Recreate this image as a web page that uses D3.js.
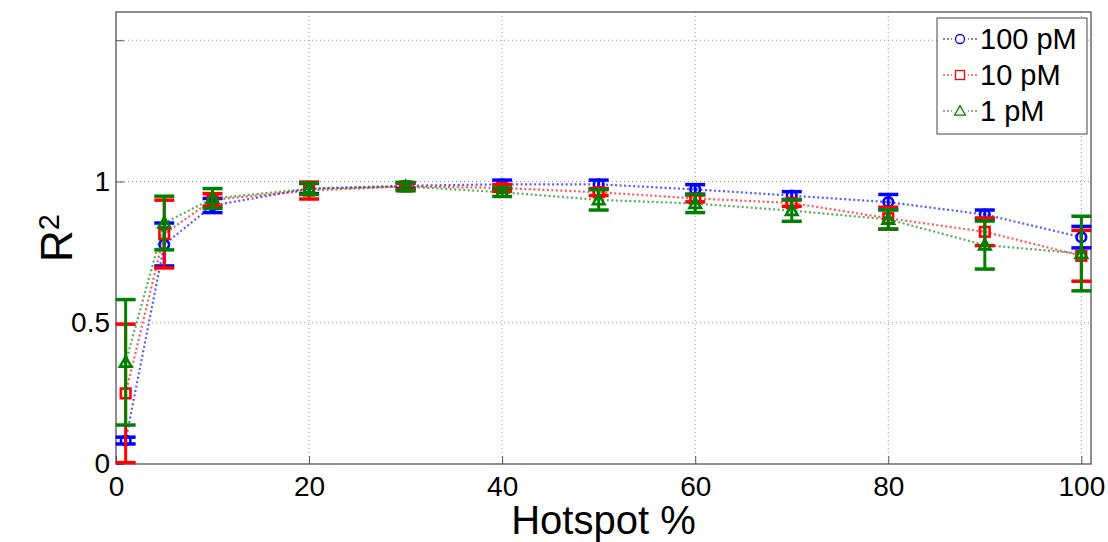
<!DOCTYPE html>
<html>
<head>
<meta charset="utf-8">
<script src="https://cdn.jsdelivr.net/npm/d3@7"></script>
<style>
  html, body { margin: 0; padding: 0; background: #fff; }
  svg text { font-family: "Liberation Sans", Arial, sans-serif; fill: #000; }
</style>
</head>
<body>
<div id="chart"></div>
<script>
'use strict';

// hotspot percentages
const hotspot = [1, 5, 10, 20, 30, 40, 50, 60, 70, 80, 90, 100];

// R^2 means and error half-widths per concentration
const r2_100pM = [0.083, 0.777, 0.915, 0.975, 0.985, 0.990, 0.990, 0.972, 0.950, 0.927, 0.883, 0.803];
const err_100pM = [0.012, 0.076, 0.025, 0.018, 0.010, 0.015, 0.015, 0.017, 0.014, 0.027, 0.016, 0.038];

const r2_10pM = [0.250, 0.814, 0.935, 0.968, 0.983, 0.977, 0.962, 0.940, 0.924, 0.870, 0.822, 0.737];
const err_10pM = [0.245, 0.120, 0.022, 0.030, 0.012, 0.012, 0.012, 0.012, 0.012, 0.039, 0.049, 0.090];

const r2_1pM = [0.360, 0.853, 0.940, 0.974, 0.982, 0.962, 0.935, 0.922, 0.897, 0.866, 0.775, 0.745];
const err_1pM = [0.222, 0.095, 0.035, 0.020, 0.015, 0.015, 0.036, 0.032, 0.038, 0.034, 0.085, 0.132];

const seriesNames = ["100 pM", "10 pM", "1 pM"];
const xTicks = [0, 20, 40, 60, 80, 100];
const yTicks = [0, 0.5, 1, 1.5];
const yTickLabels = ["0", "0.5", "1", ""];

const W = 1108, H = 542;
const plotLeft = 116, plotRight = 1091, plotTop = 12, plotBottom = 464;

const series = [
    {name: seriesNames[0], y: r2_100pM, e: err_100pM, color: "#0000ff", marker: "circle"},
    {name: seriesNames[1], y: r2_10pM, e: err_10pM, color: "#ff0000", marker: "square"},
    {name: seriesNames[2], y: r2_1pM, e: err_1pM, color: "#008000", marker: "triangle"}
];

const x = d3.scaleLinear().domain([0, 101]).range([plotLeft, plotRight]);
const y = d3.scaleLinear().domain([0, 1.6]).range([plotBottom, plotTop]);

const svg = d3.select("#chart").append("svg")
    .attr("width", W)
    .attr("height", H);

// grid
const grid = svg.append("g").attr("class", "grid");
grid.selectAll("line.gx").data(xTicks.filter(d => d > 0)).join("line")
    .attr("x1", d => x(d)).attr("x2", d => x(d))
    .attr("y1", plotTop).attr("y2", plotBottom)
    .style("stroke", "#999").style("stroke-width", 1)
    .style("stroke-dasharray", "1,3");
grid.selectAll("line.gy").data(yTicks.filter(d => d > 0)).join("line")
    .attr("x1", plotLeft).attr("x2", plotRight)
    .attr("y1", d => y(d)).attr("y2", d => y(d))
    .style("stroke", "#999").style("stroke-width", 1)
    .style("stroke-dasharray", "1,3");

// axes (MATLAB style ticks pointing in)
const xAxis = d3.axisBottom(x).tickValues(xTicks).tickSizeInner(-8).tickSizeOuter(0).tickPadding(12);
const yAxis = d3.axisLeft(y).tickValues(yTicks).tickSizeInner(-8).tickSizeOuter(0)
    .tickPadding(14).tickFormat((d, i) => yTickLabels[i]);

const gx = svg.append("g").attr("transform", `translate(0,${plotBottom})`).call(xAxis);
const gy = svg.append("g").attr("transform", `translate(${plotLeft},0)`).call(yAxis);
for (const g of [gx, gy]) {
    g.select(".domain").remove();
    g.selectAll(".tick line").style("stroke", "#555");
    g.selectAll(".tick text").style("font-size", "28px").style("fill", "#000");
}
gx.selectAll(".tick text").attr("dy", "0.7em");
gy.selectAll(".tick text").attr("dx", "8px");

// box
svg.append("rect")
    .attr("x", plotLeft).attr("y", plotTop)
    .attr("width", plotRight - plotLeft).attr("height", plotBottom - plotTop)
    .style("fill", "none").style("stroke", "#444").style("stroke-width", 1.2);

function drawMarker(g, type, cx, cy, size, color, sw){
    if(type === "circle"){
        return g.append("circle").attr("cx", cx).attr("cy", cy).attr("r", size)
            .style("fill", "none").style("stroke", color).style("stroke-width", sw);
    }else if(type === "square"){
        return g.append("rect").attr("x", cx - size).attr("y", cy - size)
            .attr("width", size * 2).attr("height", size * 2)
            .style("fill", "none").style("stroke", color).style("stroke-width", sw);
    }
    const s = size * 1.2;
    const pts = `${cx},${cy - s} ${cx + s},${cy + s * 0.75} ${cx - s},${cy + s * 0.75}`;
    return g.append("polygon").attr("points", pts)
        .style("fill", "none").style("stroke", color).style("stroke-width", sw);
}

const line = d3.line().x(d => x(d[0])).y(d => y(d[1]));
const cap = 10;

for (const s of series) {
    const g = svg.append("g").attr("class", "series");
    const pts = hotspot.map((h, i) => [h, s.y[i], s.e[i]]);

    // error bars
    for (const p of pts) {
        const px = x(p[0]);
        const lo = y(p[1] - p[2]);
        const hi = y(p[1] + p[2]);
        g.append("line").attr("x1", px).attr("x2", px).attr("y1", lo).attr("y2", hi)
            .style("stroke", s.color).style("stroke-width", 3);
        g.append("line").attr("x1", px - cap).attr("x2", px + cap).attr("y1", lo).attr("y2", lo)
            .style("stroke", s.color).style("stroke-width", 3.5);
        g.append("line").attr("x1", px - cap).attr("x2", px + cap).attr("y1", hi).attr("y2", hi)
            .style("stroke", s.color).style("stroke-width", 3.5);
    }

    // dotted connecting line
    g.append("path").datum(pts).attr("d", line)
        .style("fill", "none").style("stroke", s.color).style("stroke-width", 2.2)
        .style("stroke-opacity", 0.65).style("stroke-dasharray", "2,2.5");

    for (const p of pts) {
        drawMarker(g, s.marker, x(p[0]), y(p[1]), 4.8, s.color, 2.6);
    }
}

// legend
const leg = svg.append("g").attr("class", "legend");
leg.append("rect").attr("x", 937).attr("y", 18).attr("width", 150).attr("height", 116)
    .style("fill", "#fff").style("stroke", "#444").style("stroke-width", 1);
series.forEach((s, i) => {
    const cy = 39 + i * 36;
    leg.append("line").attr("x1", 943).attr("x2", 978).attr("y1", cy).attr("y2", cy)
        .style("stroke", s.color).style("stroke-width", 1.5).style("stroke-opacity", 0.7)
        .style("stroke-dasharray", "2,2");
    leg.append("rect").attr("x", 952).attr("y", cy - 6).attr("width", 16).attr("height", 12)
        .style("fill", "#fff");
    drawMarker(leg, s.marker, 960, cy, 4.5, s.color, 1.3);
    leg.append("text").attr("x", 980).attr("y", cy).attr("dy", "0.36em")
        .style("font-size", "29px").text(s.name);
});

// axis titles
svg.append("text").attr("x", (plotLeft + plotRight) / 2).attr("y", 534)
    .attr("text-anchor", "middle").style("font-size", "40px").text("Hotspot %");

const yl = svg.append("text")
    .attr("transform", `translate(72,${(plotTop + plotBottom) / 2}) rotate(-90)`)
    .attr("text-anchor", "middle").style("font-size", "44px");
yl.append("tspan").text("R");
yl.append("tspan").attr("dy", "-0.45em").style("font-size", "29px").text("2");
</script>
</body>
</html>
